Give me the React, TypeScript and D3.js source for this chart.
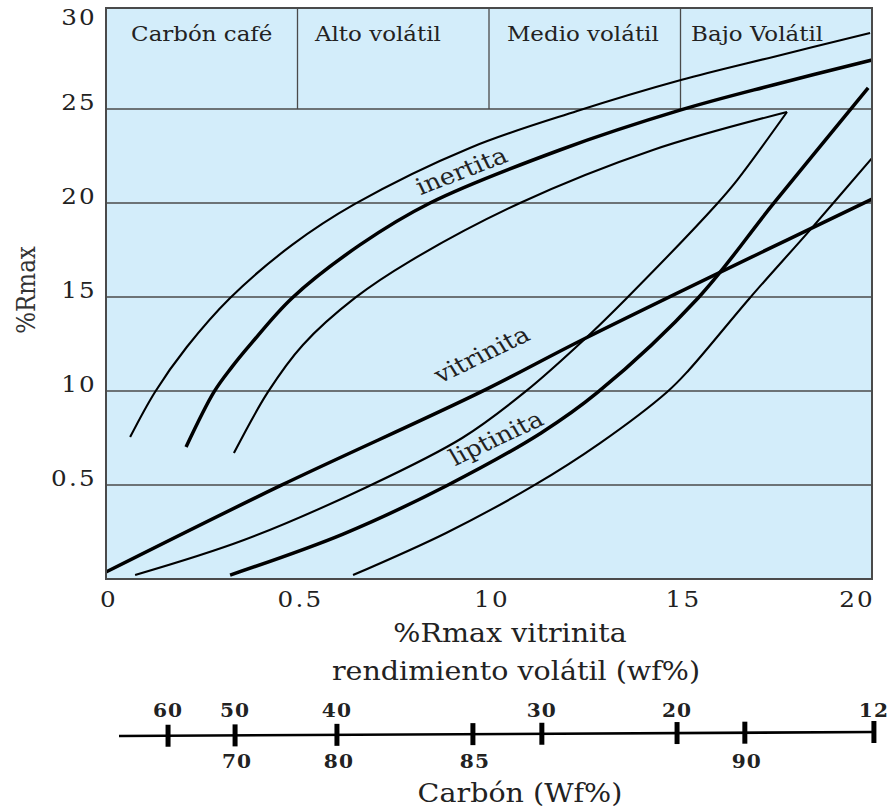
import React from 'react';
import * as d3 from 'd3';

const WIDTH = 891;
const HEIGHT = 812;
const PLOT = { left: 106, right: 872, top: 8, bottom: 579 };
// the source figure looks horizontally stretched, text is widened the same way
const STRETCH = 1.12;
const FONT = '"DejaVu Serif", serif';
const BG = '#d3edfa';
const FRAME = '#4a4a4a';
const INK = '#222';

type Pt = [number, number];

// axes
const yTickValues = [5, 10, 15, 20, 25, 30];
const yTickLabels = ['0.5', '10', '15', '20', '25', '30'];
const xTickValues = [0, 5, 10, 15, 20];
const xTickLabels = ['0', '0.5', '10', '15', '20'];

// rank bands across the top
const rankBounds = [5, 10, 15];
const rankNames = ['Carbón café', 'Alto volátil', 'Medio volátil', 'Bajo Volátil'];
const rankCenters = [2.5, 7.1, 12.45, 17.0];

// curves (x = %Rmax vitrinita, y = %Rmax)
const inertiniteUpper: Pt[] = [
  [0.63, 7.55], [1.28, 9.95], [2.11, 12.34], [3.24, 14.95], [4.86, 17.77], [6.5, 19.95],
  [9.5, 22.93], [12.3, 24.89], [15.01, 26.54], [17.42, 27.77], [19.95, 29.04],
];
const inertiniteMid: Pt[] = [
  [2.09, 7.02], [2.82, 9.95], [3.29, 11.28], [3.76, 12.45], [4.86, 14.95], [6.63, 17.77],
  [8.46, 20.0], [11.85, 22.82], [15.01, 24.95], [17.42, 26.28], [20.0, 27.61],
];
const inertiniteLower: Pt[] = [
  [3.34, 6.7], [4.23, 9.95], [5.14, 12.45], [6.5, 14.95], [7.94, 16.91],
  [10.81, 20.0], [14.28, 22.82], [17.78, 24.84],
];
const liptiniteUpper: Pt[] = [
  [0.76, 0.21], [3.6, 2.07], [6.87, 4.95], [9.3, 7.5], [10.94, 9.95],
  [12.53, 12.82], [13.6, 14.95], [15.95, 19.95], [16.48, 21.22], [17.78, 24.84],
];
const liptiniteMid: Pt[] = [
  [3.24, 0.21], [6.19, 2.39], [8.88, 4.95], [11.36, 7.77], [12.85, 9.95],
  [15.46, 14.95], [17.42, 19.95], [19.9, 26.12],
];
const liptiniteLower: Pt[] = [
  [6.45, 0.21], [8.88, 2.45], [11.15, 4.95], [12.9, 7.23], [14.65, 9.95],
  [15.22, 11.12], [16.81, 14.95], [18.38, 18.56], [20.0, 22.39],
];
const vitrinite: Pt[] = [
  [0, 0.37], [4.54, 4.95], [9.79, 9.95], [12.53, 12.82], [20.0, 20.21],
];

// curve labels: [x, y, angle in degrees as seen]
const curveLabels: { text: string; at: Pt; angle: number }[] = [
  { text: 'inertita', at: [9.37, 21.75], angle: -21 },
  { text: 'vitrinita', at: [9.92, 12.0], angle: -26 },
  { text: 'liptinita', at: [10.29, 7.55], angle: -25 },
];

// lower scale: volatile yield above, carbon below
const scaleRange = [0.34, 20.05];
const volatileTicks = [1.62, 3.37, 6.03, 11.38, 14.91, 20.05];
const volatileLabels = ['60', '50', '40', '30', '20', '12'];
const carbonTicks = [3.37, 6.03, 9.58, 16.68];
const carbonLabels = ['70', '80', '85', '90'];

const x = d3.scaleLinear().domain([0, 20]).range([PLOT.left, PLOT.right]);
const y = d3.scaleLinear().domain([0, 30]).range([PLOT.bottom, 15]);

const line = d3
  .line<Pt>()
  .x((d) => x(d[0]))
  .y((d) => y(d[1]))
  .curve(d3.curveCatmullRom.alpha(0.5));

// stretched text, rotation corrected so it still reads at `angle` on screen
function Label(props: {
  x: number;
  y: number;
  text: string;
  size: number;
  anchor?: string;
  weight?: string;
  angle?: number;
  fill?: string;
  spacing?: number;
}) {
  const a = props.angle || 0;
  const inner =
    a === -90 ? -90 : (Math.atan(Math.tan((a * Math.PI) / 180) * STRETCH) * 180) / Math.PI;
  return (
    <text
      transform={`translate(${props.x},${props.y}) scale(${STRETCH},1) rotate(${inner})`}
      textAnchor={props.anchor || 'middle'}
      fontFamily={FONT}
      fontSize={props.size}
      fontWeight={props.weight || 'normal'}
      letterSpacing={props.spacing || 0}
      fill={props.fill || INK}
    >
      {props.text}
    </text>
  );
}

export default function App() {
  const frameTop = PLOT.top;
  const scaleY = (v: number) => 736 - ((v - scaleRange[0]) / (scaleRange[1] - scaleRange[0])) * 4;

  const thin = [inertiniteUpper, inertiniteLower, liptiniteUpper, liptiniteLower];
  const thick = [inertiniteMid, liptiniteMid, vitrinite];

  return (
    <svg width={WIDTH} height={HEIGHT} style={{ position: 'absolute', left: 0, top: 0, background: '#fff' }}>
      <rect
        x={PLOT.left}
        y={frameTop}
        width={PLOT.right - PLOT.left}
        height={PLOT.bottom - frameTop}
        fill={BG}
      />

      {/* horizontal grid */}
      {yTickValues
        .filter((v) => v < 30)
        .map((v) => (
          <line key={v} x1={PLOT.left} x2={PLOT.right} y1={y(v)} y2={y(v)} stroke={FRAME} strokeWidth={1.3} />
        ))}

      {/* rank band separators */}
      {rankBounds.map((b) => (
        <line key={b} x1={x(b)} x2={x(b)} y1={frameTop} y2={y(25)} stroke={FRAME} strokeWidth={1.3} />
      ))}
      {rankNames.map((n, i) => (
        <Label key={n} x={x(rankCenters[i])} y={41} text={n} size={20.5} />
      ))}

      {/* curves */}
      {thin.map((c, i) => (
        <path key={'t' + i} d={line(c) || ''} fill="none" stroke="#000" strokeWidth={2.1} />
      ))}
      {thick.map((c, i) => (
        <path key={'k' + i} d={line(c) || ''} fill="none" stroke="#000" strokeWidth={3.5} />
      ))}
      {curveLabels.map((l) => (
        <Label key={l.text} x={x(l.at[0])} y={y(l.at[1]) + 8} text={l.text} size={23} angle={l.angle} />
      ))}

      {/* frame */}
      <rect
        x={PLOT.left}
        y={frameTop}
        width={PLOT.right - PLOT.left}
        height={PLOT.bottom - frameTop}
        fill="none"
        stroke={FRAME}
        strokeWidth={2}
      />

      {/* y axis */}
      {yTickValues.map((v, i) => (
        <Label
          key={v}
          x={97}
          y={Math.max(y(v) + 1, 25)}
          text={yTickLabels[i]}
          size={22}
          spacing={2}
          anchor="end"
        />
      ))}
      <Label x={35} y={290} text="%Rmax" size={23} angle={-90} fill="#333" />

      {/* x axis */}
      {xTickValues.map((v, i) => (
        <Label
          key={v}
          x={x(v) + 3}
          y={607}
          text={xTickLabels[i]}
          size={22}
          spacing={2}
          anchor={i === xTickValues.length - 1 ? 'end' : 'middle'}
        />
      ))}
      <Label x={510} y={642} text="%Rmax vitrinita" size={25.5} />
      <Label x={516} y={680} text="rendimiento volátil (wf%)" size={25.5} />

      {/* lower conversion scale */}
      <line
        x1={x(scaleRange[0])}
        x2={x(scaleRange[1])}
        y1={scaleY(scaleRange[0])}
        y2={scaleY(scaleRange[1])}
        stroke="#000"
        strokeWidth={2.6}
      />
      {Array.from(new Set([...volatileTicks, ...carbonTicks])).map((t) => (
        <line key={t} x1={x(t)} x2={x(t)} y1={scaleY(t) - 11} y2={scaleY(t) + 11} stroke="#000" strokeWidth={5} />
      ))}
      {volatileTicks.map((t, i) => (
        <Label key={'v' + t} x={x(t)} y={717} text={volatileLabels[i]} size={18} spacing={1} weight="bold" />
      ))}
      {carbonTicks.map((t, i) => (
        <Label key={'c' + t} x={x(t) + 2} y={768} text={carbonLabels[i]} size={18} spacing={1} weight="bold" />
      ))}
      <Label x={520} y={802} text="Carbón (Wf%)" size={25.5} />
    </svg>
  );
}
